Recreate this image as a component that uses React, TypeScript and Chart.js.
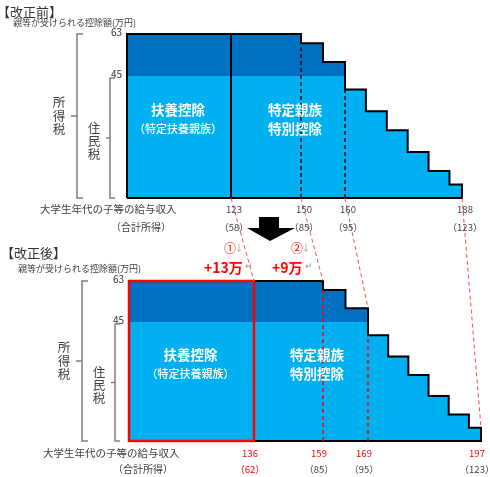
import React, { useEffect, useRef } from 'react';
import { Chart, registerables, LinearScale } from 'chart.js';

// ---------------- data ----------------
// 給与収入 (万円) tick values and the 合計所得 shown under them
const TOP_TICKS = [123, 150, 160, 188];
const TOP_TICK_INCOME = [58, 85, 95, 123];
const BOT_TICKS = [136, 159, 169, 197];
const BOT_TICK_INCOME = [62, 85, 95, 123];
// start of every step of the deduction (給与収入, 万円); first step starts at the chart's left edge
const TOP_STEP_STARTS = [0, 150, 155, 160, 165, 170, 175, 180, 185];
const BOT_STEP_STARTS = [0, 159, 164, 169, 174, 179, 184, 189, 194];
// deduction amount of each step (万円), as drawn
const STEP_HEIGHTS = [63, 59, 51, 40, 32, 25, 17, 10, 5];
const Y_TICKS = [63, 45];
const MAX_DEDUCTION = 63;
const RESIDENT_CAP = 45;
const CHANGE_MARKS = ['①', '②'];
const CHANGE_TEXT = ['+13万', '+9万'];

// ---------------- layout (schematic axes: value -> pixel anchors) ----------------
const TOP_X_PX = [127, 231, 301, 345, 462];
const BOT_X_PX = [129, 254, 323, 368, 481];
const AXIS_MAP: Record<string, number[][]> = {
  x: [0, ...TOP_TICKS].map((v, i) => [v, TOP_X_PX[i]]),
  x2: [0, ...BOT_TICKS].map((v, i) => [v, BOT_X_PX[i]]),
  y: [[0, 198], [RESIDENT_CAP, 76], [MAX_DEDUCTION, 34]],
  y2: [[0, 441], [RESIDENT_CAP, 322], [MAX_DEDUCTION, 281]],
};

function interp(map: number[][], v: number) {
  let i = 1;
  while (i < map.length - 1 && v > map[i][0]) i++;
  const [v0, p0] = map[i - 1];
  const [v1, p1] = map[i];
  return p0 + ((v - v0) * (p1 - p0)) / (v1 - v0);
}

class PanelScale extends LinearScale {
  static id = 'panel';
  getPixelForValue(value: any) {
    if (value === null || value === undefined || isNaN(value)) return NaN;
    return interp(AXIS_MAP[(this as any).id], value);
  }
  getValueForPixel(pixel: number) {
    const inv = AXIS_MAP[(this as any).id].map(([v, p]) => [p, v]).sort((a, b) => a[0] - b[0]);
    return interp(inv, pixel);
  }
}

Chart.register(...registerables, PanelScale);

const FONT = '"Noto Sans CJK JP", "Noto Sans", sans-serif';
const GRAY = '#404040';
const RED = '#FF0000';

const heightAt = (starts: number[], v: number, before: boolean) => {
  let idx = 0;
  starts.forEach((s, i) => {
    if (before ? s < v : s <= v) idx = i;
  });
  return STEP_HEIGHTS[idx];
};

function panelDatasets(starts: number[], end: number, xId: string, yId: string) {
  const base = {
    xAxisID: xId,
    yAxisID: yId,
    pointRadius: 0,
    pointHoverRadius: 0,
    stepped: 'before',
    clip: false,
    borderCapStyle: 'butt',
    borderJoinStyle: 'miter',
  };
  const area = (cap: number) => [
    { x: starts[0], y: 0 },
    ...starts.map((s, i) => ({ x: s, y: Math.min(STEP_HEIGHTS[i], cap) })),
    { x: end, y: 0 },
  ];
  return [
    { ...base, data: area(Infinity), fill: 'origin', backgroundColor: '#0070C0', borderColor: 'rgba(0,0,0,0)', borderWidth: 0, order: 10 },
    { ...base, data: area(RESIDENT_CAP), fill: 'origin', backgroundColor: '#00B0F0', borderColor: 'rgba(0,0,0,0)', borderWidth: 0, order: 9 },
    { ...base, data: [...area(Infinity), { x: starts[0], y: 0 }], fill: false, borderColor: '#000', borderWidth: 2, order: 5 },
  ];
}

function verticals(ticks: number[], starts: number[], xId: string, yId: string, color: string) {
  return ticks.slice(1, 3).map((t) => ({
    xAxisID: xId,
    yAxisID: yId,
    pointRadius: 0,
    stepped: 'before',
    clip: false,
    data: [{ x: t, y: 0 }, { x: t, y: heightAt(starts, t, false) }],
    borderColor: color,
    borderWidth: 1.5,
    borderDash: [4, 3],
    fill: false,
    order: 4,
  }));
}

const PANELS = [
  {
    x: 'x', y: 'y', starts: TOP_STEP_STARTS, ticks: TOP_TICKS, income: TOP_TICK_INCOME,
    prevTicks: null as number[] | null, prevIncome: null as number[] | null,
    title: '【改正前】', titleX: -3, titleY: 12, subX: 13, subY: 23,
    outerX: 77, innerX: 110, tickDx: 3, tickDy: 11, incomeDy: 29, captionX: 40, captionCx: 141,
  },
  {
    x: 'x2', y: 'y2', starts: BOT_STEP_STARTS, ticks: BOT_TICKS, income: BOT_TICK_INCOME,
    prevTicks: TOP_TICKS, prevIncome: TOP_TICK_INCOME,
    title: '【改正後】', titleX: 1, titleY: 253, subX: 18, subY: 269,
    outerX: 82, innerX: 115, tickDx: -4, tickDy: 12, incomeDy: 28, captionX: 43, captionCx: 143,
  },
];

function txt(ctx: CanvasRenderingContext2D, s: string, x: number, y: number, size: number, color: string, align: CanvasTextAlign = 'left', weight = 'normal') {
  ctx.font = `${weight} ${size}px ${FONT}`;
  ctx.fillStyle = color;
  ctx.textAlign = align;
  ctx.textBaseline = 'middle';
  ctx.fillText(s, x, y);
}

function bracket(ctx: CanvasRenderingContext2D, x: number, y0: number, y1: number, foot: number, tick: number) {
  const mid = (y0 + y1) / 2;
  ctx.beginPath();
  ctx.moveTo(x + foot, y0);
  ctx.lineTo(x, y0);
  ctx.lineTo(x, y1);
  ctx.lineTo(x + foot, y1);
  ctx.moveTo(x, mid);
  ctx.lineTo(x - tick, mid);
  ctx.stroke();
  return mid;
}

const annotate = {
  id: 'annotate',
  afterDatasetsDraw(chart: any) {
    const ctx: CanvasRenderingContext2D = chart.ctx;
    const { x, y, x2, y2 } = chart.scales;
    ctx.save();
    ctx.strokeStyle = '#FF4B4B';
    ctx.lineWidth = 1;
    ctx.setLineDash([4, 3]);
    TOP_TICKS.forEach((t, i) => {
      const b = BOT_TICKS[i];
      ctx.beginPath();
      ctx.moveTo(x.getPixelForValue(t), y.getPixelForValue(0));
      ctx.lineTo(x2.getPixelForValue(b), y2.getPixelForValue(heightAt(BOT_STEP_STARTS, b, true)));
      ctx.stroke();
    });
    ctx.restore();
  },
  afterDraw(chart: any) {
    const ctx: CanvasRenderingContext2D = chart.ctx;
    ctx.save();
    PANELS.forEach((P) => {
      const xs = chart.scales[P.x];
      const ys = chart.scales[P.y];
      const left = xs.getPixelForValue(P.starts[0]);
      const yBase = ys.getPixelForValue(0);
      const yTop = ys.getPixelForValue(MAX_DEDUCTION);
      const yRes = ys.getPixelForValue(RESIDENT_CAP);

      txt(ctx, P.title, P.titleX, P.titleY, 13, '#333');
      txt(ctx, '親等が受けられる控除額(万円)', P.subX, P.subY, 9, GRAY);
      Y_TICKS.forEach((v) => txt(ctx, String(v), left - 5, ys.getPixelForValue(v) - 2, 10, '#333', 'right'));

      ctx.strokeStyle = '#7F7F7F';
      ctx.lineWidth = 1.5;
      ctx.setLineDash([]);
      const m1 = bracket(ctx, P.outerX, yTop, yBase, 6, 6);
      const m2 = bracket(ctx, P.innerX, yRes + 2, yBase, 5, 4);
      ['所', '得', '税'].forEach((c, i) => txt(ctx, c, P.outerX - 18, m1 + (i - 1) * 13.5, 12.5, GRAY, 'center'));
      ['住', '民', '税'].forEach((c, i) => txt(ctx, c, P.innerX - 16, m2 + 3 + (i - 1) * 13, 12.5, GRAY, 'center'));

      const ly = yTop + 0.463 * (yBase - yTop);
      const cx1 = (left + xs.getPixelForValue(P.ticks[0])) / 2 - 1;
      const cx2 = xs.getPixelForValue(P.ticks[1]) - 6;
      txt(ctx, '扶養控除', cx1, ly, 13.5, '#fff', 'center', '600');
      txt(ctx, '（特定扶養親族）', cx1, ly + 18.5, 11, '#fff', 'center', '500');
      txt(ctx, '特定親族', cx2, ly, 13.5, '#fff', 'center', '600');
      txt(ctx, '特別控除', cx2, ly + 18.5, 13.5, '#fff', 'center', '600');

      P.ticks.forEach((t, i) => {
        const px = xs.getPixelForValue(t) + P.tickDx;
        const c1 = P.prevTicks && P.prevTicks[i] !== t ? RED : GRAY;
        const c2 = P.prevIncome && P.prevIncome[i] !== P.income[i] ? RED : GRAY;
        txt(ctx, String(t), px, yBase + P.tickDy, 9.5, c1, 'center');
        txt(ctx, `（${P.income[i]}）`, px, yBase + P.incomeDy, 9.5, c2, 'center');
      });
      txt(ctx, '大学生年代の子等の給与収入', P.captionX, yBase + P.tickDy, 10.5, GRAY);
      txt(ctx, '（合計所得）', P.captionCx, yBase + P.incomeDy, 10, GRAY, 'center');
    });

    // big arrow between the panels
    ctx.fillStyle = '#000';
    ctx.beginPath();
    ctx.moveTo(259, 217);
    ctx.lineTo(279, 217);
    ctx.lineTo(279, 228);
    ctx.lineTo(295, 228);
    ctx.lineTo(270, 241);
    ctx.lineTo(247, 228);
    ctx.lineTo(259, 228);
    ctx.closePath();
    ctx.fill();

    // change annotations
    const xs = chart.scales.x;
    const ax = [xs.getPixelForValue(TOP_TICKS[0]) - 1, xs.getPixelForValue(TOP_TICKS[1]) - 4];
    const tx = [204, 272];
    CHANGE_MARKS.forEach((m, i) => {
      txt(ctx, m, ax[i], 248, 12, RED, 'center');
      txt(ctx, '↓', ax[i] + 9, 248, 9, '#999', 'center');
      ctx.font = `bold 14px ${FONT}`;
      const w = ctx.measureText(CHANGE_TEXT[i]).width;
      txt(ctx, CHANGE_TEXT[i], tx[i], 268, 14, RED, 'left', 'bold');
      txt(ctx, '↵', tx[i] + w + 2, 266, 9, '#999', 'left');
    });
    ctx.restore();
  },
};

export default function App() {
  const ref = useRef<HTMLCanvasElement>(null);
  useEffect(() => {
    const datasets: any[] = [
      ...panelDatasets(TOP_STEP_STARTS, TOP_TICKS[3], 'x', 'y'),
      ...panelDatasets(BOT_STEP_STARTS, BOT_TICKS[3], 'x2', 'y2'),
      {
        xAxisID: 'x', yAxisID: 'y', pointRadius: 0, stepped: 'before', clip: false, fill: false,
        data: [{ x: TOP_TICKS[0], y: 0 }, { x: TOP_TICKS[0], y: MAX_DEDUCTION }],
        borderColor: '#000', borderWidth: 2, order: 4,
      },
      ...verticals(TOP_TICKS, TOP_STEP_STARTS, 'x', 'y', '#000'),
      ...verticals(BOT_TICKS, BOT_STEP_STARTS, 'x2', 'y2', RED),
      {
        xAxisID: 'x2', yAxisID: 'y2', pointRadius: 0, stepped: 'before', clip: false, fill: false,
        borderJoinStyle: 'miter',
        data: [
          { x: BOT_STEP_STARTS[0], y: 0 },
          { x: BOT_STEP_STARTS[0], y: MAX_DEDUCTION },
          { x: BOT_TICKS[0], y: MAX_DEDUCTION },
          { x: BOT_TICKS[0], y: 0 },
          { x: BOT_STEP_STARTS[0], y: 0 },
          { x: BOT_STEP_STARTS[0], y: MAX_DEDUCTION },
        ],
        borderColor: RED, borderWidth: 2.5, order: 1,
      },
    ];
    const hidden = { display: false };
    const chart = new Chart(ref.current!, {
      type: 'line',
      data: { datasets },
      options: {
        responsive: false,
        animation: false,
        devicePixelRatio: 1,
        events: [],
        layout: { padding: { left: 100, right: 4, top: 20, bottom: 20 } },
        plugins: { legend: { display: false }, tooltip: { enabled: false } },
        scales: {
          x: { type: 'panel', axis: 'x', position: 'bottom', min: 0, max: TOP_TICKS[3], ...hidden },
          y: { type: 'panel', axis: 'y', position: 'left', min: 0, max: MAX_DEDUCTION, ...hidden },
          x2: { type: 'panel', axis: 'x', position: 'bottom', min: 0, max: BOT_TICKS[3], ...hidden },
          y2: { type: 'panel', axis: 'y', position: 'left', min: 0, max: MAX_DEDUCTION, ...hidden },
        },
      } as any,
      plugins: [annotate],
    } as any);
    return () => chart.destroy();
  }, []);
  return (
    <div style={{ position: 'absolute', left: 0, top: 0, width: 490, height: 477, background: '#fff' }}>
      <canvas ref={ref} width={490} height={477} style={{ display: 'block', width: 490, height: 477 }} />
    </div>
  );
}
